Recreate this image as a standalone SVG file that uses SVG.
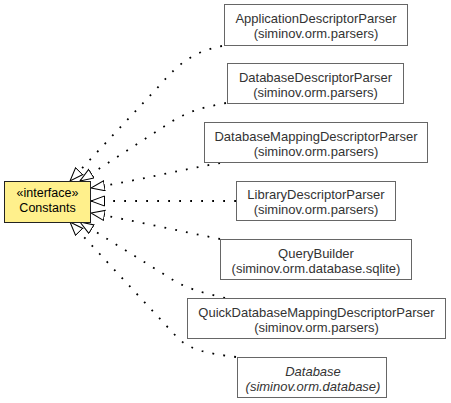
<svg xmlns="http://www.w3.org/2000/svg" width="451" height="403" viewBox="0 0 451 403">
  <defs>
    <!-- hollow triangle for the realization arrows -->
    <marker id="realize" markerUnits="userSpaceOnUse" markerWidth="16" markerHeight="12" refX="14" refY="5.5" orient="auto">
      <path d="M0.5,0.5 L14,5.5 L0.5,10.5 Z" fill="#ffffff" stroke="#000000" stroke-width="1"/>
    </marker>
    <style>
      .box { fill: #ffffff; stroke: #666666; stroke-width: 1; }
      .iface { fill: #fff08c; stroke: #222222; stroke-width: 1; }
      .lbl { font-family: "Liberation Sans", Arial, sans-serif; font-size: 13px; fill: #333333; text-anchor: middle; }
      .ilbl { font-family: "Liberation Sans", Arial, sans-serif; font-size: 12.5px; fill: #000000; text-anchor: middle; }
      .it { font-style: italic; }
      .dep { fill: none; stroke: #000000; stroke-width: 1.8; stroke-dasharray: 1.8 9.2; marker-end: url(#realize); }
    </style>
  </defs>

  <rect width="451" height="403" fill="#ffffff"/>

  <!-- realization connectors -->
  <g id="connectors">
    <path class="dep" d="M222,46 C190,52 175,68 160,85 L70,181"/>
    <path class="dep" d="M226,103 C200,108 185,112 165,126 L80,181"/>
    <path class="dep" d="M220,163 C180,170 140,180 91,188"/>
    <path class="dep" d="M236,201 L91,201"/>
    <path class="dep" d="M220,239 C180,231 130,220 91,213"/>
    <path class="dep" d="M225,298 C200,292 185,288 170,278 L80,222"/>
    <path class="dep" d="M236,357 C205,353 188,350 175,335 L70,222"/>
  </g>

  <g id="Constants">
    <rect class="iface" x="4.5" y="181.5" width="86" height="41"/>
    <text class="ilbl" x="47.5" y="197">«interface»</text>
    <text class="ilbl" x="47.5" y="211.5">Constants</text>
  </g>

  <g id="ApplicationDescriptorParser">
    <rect class="box" x="224.5" y="4.5" width="183" height="41"/>
    <text class="lbl" x="316" y="22.5">ApplicationDescriptorParser</text>
    <text class="lbl" x="316" y="37.5">(siminov.orm.parsers)</text>
  </g>

  <g id="DatabaseDescriptorParser">
    <rect class="box" x="227.5" y="63.5" width="176" height="40"/>
    <text class="lbl" x="315.5" y="81.5">DatabaseDescriptorParser</text>
    <text class="lbl" x="315.5" y="96.5">(siminov.orm.parsers)</text>
  </g>

  <g id="DatabaseMappingDescriptorParser">
    <rect class="box" x="204.5" y="122.5" width="223" height="40"/>
    <text class="lbl" x="316" y="140.5">DatabaseMappingDescriptorParser</text>
    <text class="lbl" x="316" y="155.5">(siminov.orm.parsers)</text>
  </g>

  <g id="LibraryDescriptorParser">
    <rect class="box" x="236.5" y="181.5" width="159" height="39"/>
    <text class="lbl" x="316" y="199">LibraryDescriptorParser</text>
    <text class="lbl" x="316" y="214">(siminov.orm.parsers)</text>
  </g>

  <g id="QueryBuilder">
    <rect class="box" x="220.5" y="239.5" width="191" height="40"/>
    <text class="lbl" x="316" y="257.5">QueryBuilder</text>
    <text class="lbl" x="316" y="272.5">(siminov.orm.database.sqlite)</text>
  </g>

  <g id="QuickDatabaseMappingDescriptorParser">
    <rect class="box" x="187.5" y="298.5" width="258" height="40"/>
    <text class="lbl" x="316.5" y="316.5">QuickDatabaseMappingDescriptorParser</text>
    <text class="lbl" x="316.5" y="331.5">(siminov.orm.parsers)</text>
  </g>

  <g id="Database">
    <rect class="box" x="237.5" y="357.5" width="149" height="40"/>
    <text class="lbl it" x="313" y="375.5">Database</text>
    <text class="lbl it" x="313" y="390.5">(siminov.orm.database)</text>
  </g>
</svg>
